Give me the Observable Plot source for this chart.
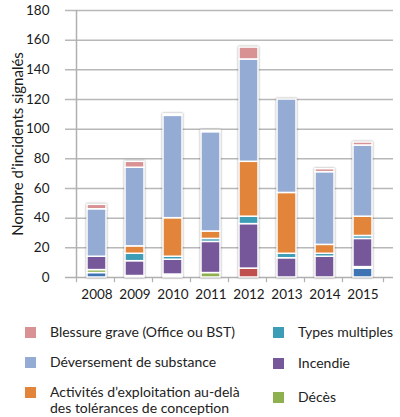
<!DOCTYPE html>
<html>
<head>
<meta charset="utf-8">
<script src="https://cdn.jsdelivr.net/npm/d3@7"></script>
<script src="https://cdn.jsdelivr.net/npm/@observablehq/plot@0.6"></script>
<style>
  body { margin: 0; background: #fff; font-family: Lato, "Open Sans", sans-serif; }
  #wrap { position: relative; width: 400px; height: 417px; }
  .leg { position: absolute; font-size: 14px; color: #222; line-height: 16px; }
  .sw { position: absolute; width: 11px; height: 11px; }
</style>
</head>
<body>
<div id="wrap"><div id="chart"></div></div>
<script>
const years = ["2008","2009","2010","2011","2012","2013","2014","2015"];
const yTicks = [0,20,40,60,80,100,120,140,160,180];

const seriesNames = [
  "Autre (bleu foncé)",
  "Autre (rouge)",
  "Autre (rose pâle)",
  "Décès",
  "Incendie",
  "Types multiples",
  "Activités d’exploitation au-delà des tolérances de conception",
  "Déversement de substance",
  "Blessure grave (Office ou BST)"
];
const seriesColors = ["#3e74b4","#c0504d","#f1d9d8","#8fb04e","#75579a","#3d9db6","#e2843a","#94acd4","#d89294"];

const darkBlue    = [3, 0, 1, 0, 0, 0, 0, 6];
const red         = [0, 0, 0, 0, 6, 0, 0, 0];
const lightPink   = [0, 1, 1, 0, 0, 0, 0, 1];
const deces       = [2, 0, 0, 3, 0, 0, 0, 0];
const incendie    = [9, 10, 10, 21, 30, 13, 14, 19];
const multiples   = [0, 5, 2, 2, 5, 3, 2, 2];
const activites   = [0, 5, 26, 5, 37, 41, 6, 13];
const deversement = [32, 53, 69, 67, 69, 63, 49, 48];
const blessure    = [3, 4, 1, 1, 8, 0, 2, 2];

const seriesValues = [darkBlue, red, lightPink, deces, incendie, multiples, activites, deversement, blessure];

const data = [];
seriesNames.forEach((s, i) => {
  years.forEach((y, j) => {
    if (seriesValues[i][j] > 0) data.push({year: y, series: s, value: seriesValues[i][j]});
  });
});

const chart = Plot.plot({
  width: 400,
  height: 305,
  marginTop: 10,
  marginBottom: 28,
  marginLeft: 65,
  marginRight: 7,
  style: {fontFamily: "Lato, 'Open Sans', sans-serif", fontSize: "13.5px", color: "#1a1a1a"},
  x: {domain: years, padding: 0.5, label: null, tickSize: 0, tickPadding: 12},
  y: {domain: [0, 180], ticks: yTicks, tickSize: 0, tickPadding: 16,
      label: "Nombre d’incidents signalés", labelAnchor: "center", labelArrow: "none", labelOffset: 53},
  color: {domain: seriesNames, range: seriesColors},
  marks: [
    Plot.ruleY(yTicks.slice(1), {stroke: "#b8b8b8", strokeWidth: 1.5}),
    Plot.ruleY([0], {stroke: "#b0b0b0", strokeWidth: 1.5}),
    Plot.ruleX([0], {x: () => years[0], y1: 0, y2: 180, dx: -20.5, stroke: "#b0b0b0", strokeWidth: 1.5}),
    Plot.ruleX(years, {x: d => d, y1: 0, y2: -3.5, dx: -20.5, stroke: "#b0b0b0", strokeWidth: 1.2}),
    Plot.ruleX([years[years.length - 1]], {x: d => d, y1: 0, y2: -3.5, dx: 20.5, stroke: "#b0b0b0", strokeWidth: 1.2}),
    Plot.barY(data, Plot.stackY({
      x: "year", y: "value", fill: "series", order: seriesNames,
      stroke: "#ffffff", strokeWidth: 1.5
    }))
  ]
});
d3.select(chart).selectAll("g[aria-label='bar']").style("filter", "drop-shadow(0 0 1px rgba(0,0,0,0.4))");
d3.select(chart).selectAll("g[aria-label='y-axis label'] text").style("font-size", "15px");
document.getElementById("chart").appendChild(chart);

const legendItems = [
  {color: "#d89294", x: 25, y: 324, text: "Blessure grave (Office ou BST)"},
  {color: "#94acd4", x: 25, y: 354, text: "Déversement de substance"},
  {color: "#e2843a", x: 25, y: 384, text: "Activités d’exploitation au-delà<br>des tolérances de conception"},
  {color: "#3d9db6", x: 273, y: 324, text: "Types multiples"},
  {color: "#75579a", x: 273, y: 355, text: "Incendie"},
  {color: "#8fb04e", x: 273, y: 389, text: "Décès"}
];
const wrap = document.getElementById("wrap");
legendItems.forEach(it => {
  const sw = document.createElement("div");
  sw.className = "sw";
  sw.style.left = it.x + "px";
  sw.style.top = (it.y + 3) + "px";
  sw.style.background = it.color;
  wrap.appendChild(sw);
  const t = document.createElement("div");
  t.className = "leg";
  t.style.left = (it.x + 25) + "px";
  t.style.top = it.y + "px";
  t.innerHTML = it.text;
  wrap.appendChild(t);
});
</script>
</body>
</html>
